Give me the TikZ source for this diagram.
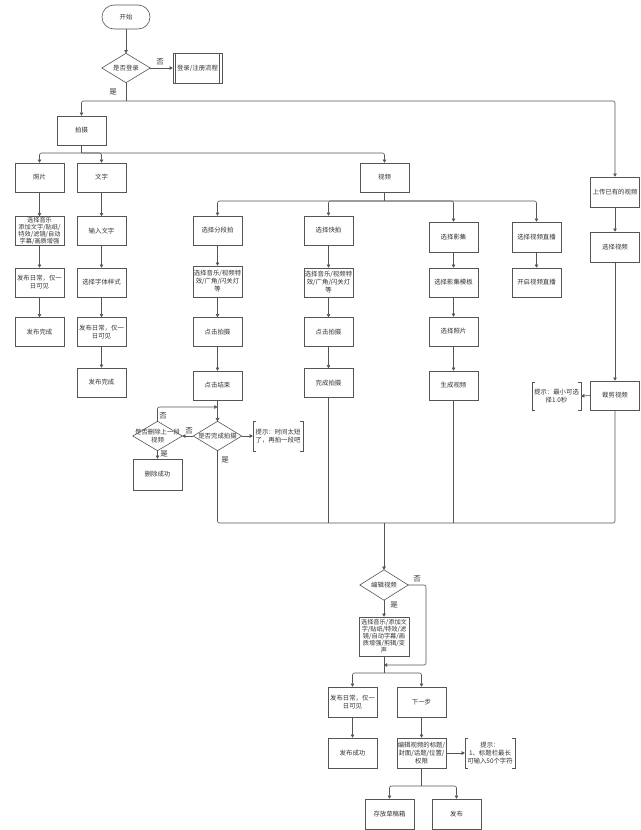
\documentclass[tikz,border=0pt]{standalone}
\usepackage{fontspec}
\setmainfont{Noto Sans CJK SC}
\usetikzlibrary{arrows.meta}
\definecolor{lc}{HTML}{555555}
\definecolor{tc}{HTML}{333333}
\newcommand{\myfs}{\fontsize{6.4}{8}\selectfont}
\newcommand{\myfst}{\fontsize{6.2}{7}\selectfont}
\newcommand{\myfl}{\fontsize{7.5}{9}\selectfont}
\begin{document}
\begin{tikzpicture}[x=1pt,y=-1pt,
 box/.style={draw=lc, line width=0.6pt, minimum width=49pt, minimum height=29pt, inner sep=0.5pt, align=center, font=\myfs, text=tc},
 dia/.style={minimum width=48pt, minimum height=29pt, inner sep=0pt, align=center, font=\myfs, text=tc},
 tipbox/.style={minimum width=49pt, minimum height=29pt, inner sep=0.5pt, align=center, font=\myfs, text=tc},
 ln/.style={draw=lc, line width=0.6pt, rounded corners=2pt},
 arr/.style={ln, -{Triangle[length=3.2pt,width=3.6pt]}},
 lab/.style={font=\myfl, text=tc, inner sep=0pt}]
\fill[white] (0,0) rectangle (640,830);
\useasboundingbox (0,0) rectangle (640,830);

% top
\node[box, rounded corners=12pt, minimum width=48pt, minimum height=24pt] (start) at (126,17) {开始};
\node[dia] (login) at (126,68) {是否登录};
\node[box, minimum height=30pt] (reg) at (197.5,68) {登录/注册流程};
\node[box] (shoot) at (81.5,130.5) {拍摄};

% level 2
\node[box] (photo) at (39.5,177.5) {照片};
\node[box] (text) at (101.5,177.5) {文字};
\node[box] (video) at (384.5,177.5) {视频};
\node[box, minimum height=30pt] (upload) at (615,192) {上传已有的视频};

% photo column
\node[box, font=\myfst] (p2) at (39.5,231) {选择音乐\\添加文字/贴纸/\\特效/滤镜/自动\\字幕/画质增强};
\node[box] (p3) at (39.5,282.5) {发布日常，仅一\\日可见};
\node[box] (p4) at (39.5,332) {发布完成};

% text column
\node[box] (t2) at (101.5,231) {输入文字};
\node[box] (t3) at (101.5,282.5) {选择字体样式};
\node[box] (t4) at (101.5,332) {发布日常，仅一\\日可见};
\node[box] (t5) at (101.5,382.5) {发布完成};

% segment column
\node[box] (seg1) at (217.5,230.5) {选择分段拍};
\node[box, minimum height=31pt] (seg2) at (217.5,281.5) {选择音乐/视频特\\效/广角/闪关灯\\等};
\node[box] (seg3) at (217.5,332) {点击拍摄};
\node[box] (seg4) at (217.5,385.5) {点击结束};
\node[dia] (segd) at (217.5,436) {是否完成拍摄};
\node[dia, minimum width=49pt] (deld) at (157.5,436) {是否删除上一段\\视频};
\node[box, minimum height=31pt] (delok) at (157.5,474.5) {删除成功};
\node[tipbox, minimum width=50pt, minimum height=30pt] (tip1) at (278,436) {提示：时间太短\\了，再拍一段吧};

% quick column
\node[box] (q1) at (328.5,230.5) {选择快拍};
\node[box] (q2) at (328.5,282.5) {选择音乐/视频特\\效/广角/闪关灯\\等};
\node[box] (q3) at (328.5,332) {点击拍摄};
\node[box] (q4) at (328.5,383) {完成拍摄};

% album column
\node[box, minimum height=30pt] (a1) at (453.5,237) {选择影集};
\node[box] (a2) at (453.5,282.5) {选择影集模板};
\node[box] (a3) at (453.5,331.5) {选择照片};
\node[box] (a4) at (453.5,385.5) {生成视频};

% live column
\node[box, minimum height=30pt] (l1) at (536.5,237) {选择视频直播};
\node[box] (l2) at (536.5,282.5) {开启视频直播};

% upload column
\node[box, minimum height=30pt] (u2) at (615,247) {选择视频};
\node[box] (u3) at (615,395.5) {裁剪视频};
\node[tipbox, minimum height=28pt] (tip2) at (556.5,396) {提示：最小可选\\择1.0秒};

% edit
\node[dia, minimum height=30pt] (editd) at (384,585) {编辑视频};
\node[box, font=\myfst, minimum width=50pt, minimum height=39pt] (e1) at (384,636.5) {选择音乐/添加文\\字/贴纸/特效/滤\\镜/自动字幕/画\\质增强/剪辑/变\\声};
\node[box, minimum height=30pt] (pd) at (352.5,702) {发布日常，仅一\\日可见};
\node[box, minimum height=30pt] (nx) at (421.5,702) {下一步};
\node[box, minimum height=30pt] (pok) at (352.5,753) {发布成功};
\node[box, minimum height=30pt] (e2) at (421.5,753) {编辑视频的标题/\\封面/话题/位置/\\权限};
\node[tipbox, minimum width=50pt, minimum height=30pt] (tip3) at (490,753) {提示：\\1、标题栏最长\\可输入50个字符};
\node[box, minimum height=30pt] (dr) at (389.5,814) {存放草稿箱};
\node[box, minimum height=30pt] (pub) at (456.5,814) {发布};

% diamonds
\foreach \n in {login,segd,deld,editd}
  \draw[lc, line width=0.6pt] (\n.north) -- (\n.east) -- (\n.south) -- (\n.west) -- cycle;
% subprocess
\draw[lc, line width=0.6pt] ([xshift=3pt]reg.north west) -- ([xshift=3pt]reg.south west)
  ([xshift=-3pt]reg.north east) -- ([xshift=-3pt]reg.south east);
% brackets
\foreach \n in {tip1,tip2,tip3}{
  \draw[lc, line width=0.6pt] ([xshift=3pt]\n.north west) -- (\n.north west) -- (\n.south west) -- ([xshift=3pt]\n.south west);
  \draw[lc, line width=0.6pt] ([xshift=-3pt]\n.north east) -- (\n.north east) -- (\n.south east) -- ([xshift=-3pt]\n.south east);
}

% junctions
\coordinate (j1) at (126,101);
\coordinate (j2) at (81.5,153);
\coordinate (j3) at (384.5,201);
\coordinate (j4) at (217.5,407);
\coordinate (m1) at (217.5,523);
\coordinate (m2) at (615,523);
\coordinate (jm) at (384,523);
\coordinate (c1) at (426,585);
\coordinate (jn) at (384,665);
\coordinate (j5) at (384,673);
\coordinate (j6) at (421.5,786);

% connectors
\draw[arr] (start) -- (login);
\draw[arr] (login) -- (reg);
\node[lab] (no1) at (160,62) {否};
\draw[ln] (login.south) -- (j1);
\node[lab] (yes1) at (113,92) {是};
\draw[arr] (j1) -| (shoot.north);
\draw[arr] (j1) -| (upload.north);

\draw[ln] (shoot.south) -- (j2);
\draw[arr] (j2) -| (photo.north);
\draw[arr] (j2) -| (text.north);
\draw[arr] (j2) -| (video.north);

\draw[arr] (photo) -- (p2);
\draw[arr] (p2) -- (p3);
\draw[arr] (p3) -- (p4);
\draw[arr] (text) -- (t2);
\draw[arr] (t2) -- (t3);
\draw[arr] (t3) -- (t4);
\draw[arr] (t4) -- (t5);

\draw[ln] (video.south) -- (j3);
\draw[arr] (j3) -| (seg1.north);
\draw[arr] (j3) -| (q1.north);
\draw[arr] (j3) -| (a1.north);
\draw[arr] (j3) -| (l1.north);

\draw[arr] (seg1) -- (seg2);
\draw[arr] (seg2) -- (seg3);
\draw[arr] (seg3) -- (seg4);
\draw[arr] (seg4) -- (segd);
\draw[arr] (segd.west) -- (deld.east);
\node[lab] (no2) at (189,431) {否};
\draw[arr] (deld.north) |- (j4);
\node[lab] (no3) at (163,416) {否};
\draw[arr] (deld) -- (delok);
\node[lab] (yes2) at (164,454) {是};
\draw[arr] (segd.east) -- (tip1.west);
\node[lab] (yes3) at (225,460) {是};

\draw[arr] (q1) -- (q2);
\draw[arr] (q2) -- (q3);
\draw[arr] (q3) -- (q4);

\draw[arr] (a1) -- (a2);
\draw[arr] (a2) -- (a3);
\draw[arr] (a3) -- (a4);

\draw[arr] (l1) -- (l2);

\draw[arr] (upload) -- (u2);
\draw[arr] (u2) -- (u3);
\draw[arr] (u3.west) -- (tip2.east);

% merge
\draw[ln] (segd.south) -- (m1) -- (m2) -- (u3.south);
\draw[ln] (q4.south) -- (q4.south |- m1);
\draw[ln] (a4.south) -- (a4.south |- m1);
\draw[arr] (jm) -- (editd.north);

\draw[arr] (editd) -- (e1);
\node[lab] (yes4) at (394,605) {是};
\draw[arr] (editd.east) -- (c1) |- (jn);
\node[lab] (no4) at (417,579) {否};
\draw[ln] (e1.south) -- (j5);
\draw[arr] (j5) -| (pd.north);
\draw[arr] (j5) -| (nx.north);

\draw[arr] (pd) -- (pok);
\draw[arr] (nx) -- (e2);
\draw[arr] (e2.east) -- (tip3.west);
\draw[ln] (e2.south) -- (j6);
\draw[arr] (j6) -| (dr.north);
\draw[arr] (j6) -| (pub.north);
\end{tikzpicture}
\end{document}
